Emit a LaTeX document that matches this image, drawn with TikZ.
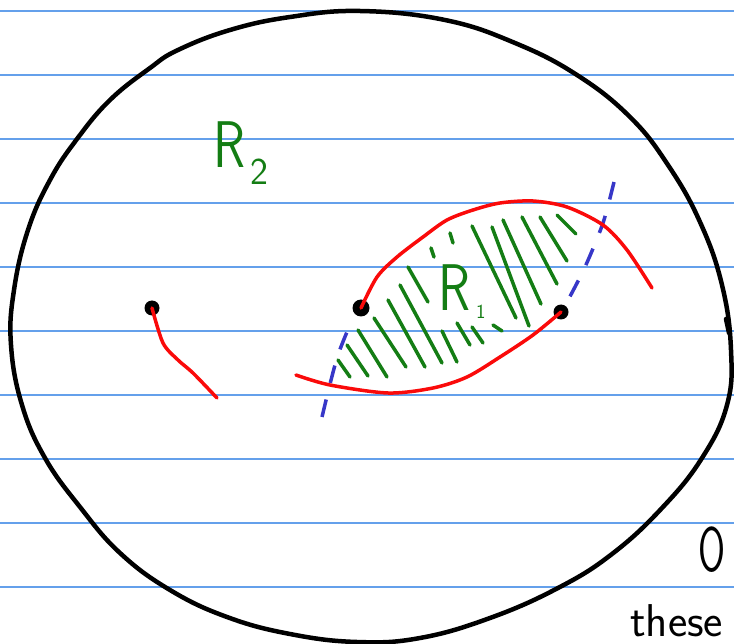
\documentclass[tikz,border=0pt]{standalone}
\usepackage{xcolor}
\usepackage{graphicx}
\usepackage{tikz}
\usetikzlibrary{positioning}
\definecolor{ruleblue}{RGB}{100, 160, 235}
\definecolor{penred}{RGB}{250, 10, 10}
\definecolor{pengreen}{RGB}{20, 125, 20}
\definecolor{penblue}{RGB}{55, 55, 200}

\begin{document}
\begin{tikzpicture}[
    x=1pt, y=-1pt,
    pen/.style={draw=black, line width=4.5pt, line cap=round, line join=round},
    redpen/.style={draw=penred, line width=3.5pt, line cap=round, line join=round},
    hatch/.style={draw=pengreen, line width=3.5pt, line cap=round},
    levelset/.style={draw=penblue, line width=3.5pt, dash pattern=on 18pt off 17pt},
    dot/.style={circle, fill=black, inner sep=0pt, minimum size=15pt},
    region/.style={text=pengreen, font=\sffamily\fontsize{66}{66}\selectfont, inner sep=0pt, anchor=base west},
    scrawl/.style={font=\sffamily\fontsize{60}{60}\selectfont, inner sep=0pt, anchor=base west}
]
    \useasboundingbox (0,0) rectangle (734,644);
    \clip (0,0) rectangle (734,644);

    % Ruled paper
    \foreach \y in {11,75,...,587}
        \draw[ruleblue, line width=1.3pt] (0,\y) -- (734,\y);

    % Outer boundary
    \draw[pen] plot[smooth cycle, tension=0.7] coordinates {
        (360,11) (445,20) (515,43) (577,75) (630,117) (668,165) (700,222)
        (722,285) (731,350) (727,405) (702,458) (662,508) (612,554) (558,588)
        (490,618) (420,638) (357,642) (290,634) (227,617) (170,590) (120,553)
        (80,507) (45,458) (22,405) (11,345) (14,290) (28,230) (50,180)
        (77,139) (110,100) (150,68) (178,50) (230,30) (290,17)};
    \draw[pen] (726,319) -- (729,333);

    % Dashed level curves
    \draw[levelset] plot[smooth] coordinates {(322,417) (337,358) (353,318)};
    \draw[levelset] plot[smooth] coordinates {(614,182) (603,223) (585,267) (567,302)};

    % Hatching of R_1
    \foreach \xa/\ya/\xb/\yb in {
        338/360/350/377, 347/345/368/376, 358/330/387/377, 374/318/406/367,
        388/300/425/367, 400/285/442/363, 408/267/428/302, 431/248/434/257,
        450/233/453/243, 442/331/457/362, 457/323/470/345, 472/327/483/343,
        493/325/502/331, 472/226/516/318, 492/227/529/326, 503/220/541/304,
        522/217/557/284, 540/217/567/261, 557/215/576/234}
        \draw[hatch] (\xa,\ya) -- (\xb,\yb);

    % Points
    \node[dot] (c) at (152,308) {};
    \node[dot, minimum size=17pt] (a) at (361,308) {};
    \node[dot] (b) at (561,312) {};

    % Red curves
    \draw[redpen] plot[smooth] coordinates {(c.center) (163,343) (178,360) (193,373) (217,398)};
    \draw[redpen] plot[smooth] coordinates {(a.center) (377,277) (397,257) (423,237) (447,220)
        (473,210) (500,203) (533,201) (567,207) (603,225) (627,250) (652,288)};
    \draw[redpen] plot[smooth] coordinates {(296,375) (330,385) (388,393) (433,388)
        (467,377) (500,357) (533,335) (b.center)};

    % Labels
    \node[region] (r2) at (213,168) {\scalebox{0.8}[1]{R}\hspace{5pt}\raisebox{-17pt}{\fontsize{38}{38}\selectfont 2}};
    \node[region] (r1) at (438,311) {\scalebox{0.8}[1]{R}\hspace{6pt}\raisebox{-8pt}{\fontsize{20}{20}\selectfont 1}};

    % Margin scribbles
    \node[scrawl] (o) at (698,571) {\scalebox{0.65}[1.05]{O}};
    \node[scrawl, font=\sffamily\fontsize{46}{46}\selectfont] (these) at (630,636) {these};
\end{tikzpicture}
\end{document}
